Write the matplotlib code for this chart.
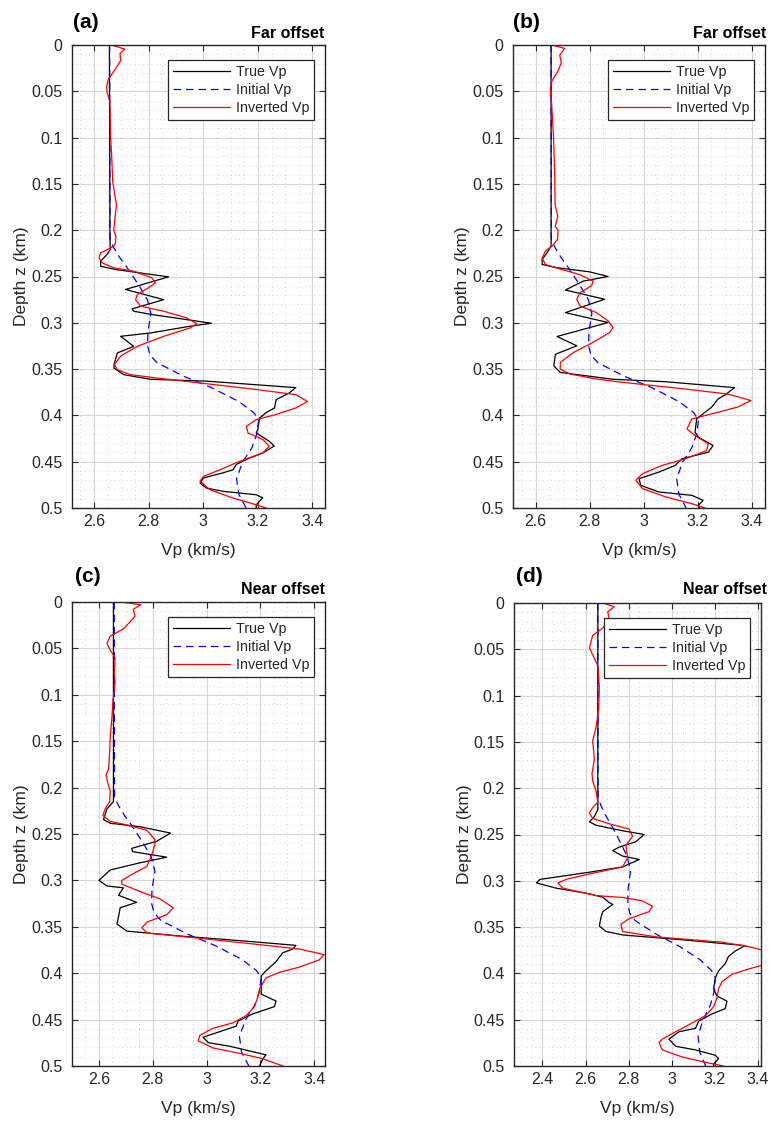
import numpy as np
import matplotlib
matplotlib.use("Agg")
import matplotlib.pyplot as plt
from matplotlib.ticker import MultipleLocator, FuncFormatter

plt.rcParams["font.family"] = ["Liberation Sans", "DejaVu Sans"]

# --- initial model (same smooth starting model in every panel) ---
init_z = [0, 0.21, 0.219, 0.23, 0.24, 0.26, 0.275, 0.29, 0.31, 0.325, 0.335, 0.343,
          0.358, 0.37, 0.385, 0.397, 0.405, 0.42, 0.435, 0.45, 0.468, 0.485, 0.5]
init_vp = [2.657, 2.658, 2.672, 2.695, 2.72, 2.765, 2.795, 2.808, 2.797, 2.796, 2.805, 2.83,
           2.93, 3.03, 3.13, 3.185, 3.203, 3.196, 3.178, 3.145, 3.122, 3.13, 3.157]

# --- (a) far offset ---
a_true_z = [0, 0.2, 0.221, 0.226, 0.2335, 0.239, 0.2425, 0.2504, 0.264, 0.275, 0.285, 0.2875,
            0.291, 0.3005, 0.3037, 0.311, 0.3146, 0.3254, 0.3326, 0.345, 0.349, 0.356, 0.361,
            0.363, 0.37, 0.3758, 0.383, 0.392, 0.397, 0.403, 0.415, 0.419, 0.428, 0.433, 0.4406,
            0.446, 0.453, 0.4587, 0.462, 0.4676, 0.473, 0.4785, 0.482, 0.4857, 0.489, 0.4965, 0.5]
a_true_vp = [2.656, 2.658, 2.659, 2.648, 2.624, 2.624, 2.68, 2.873, 2.715, 2.855, 2.739, 2.745,
             2.81, 3.03, 2.952, 2.806, 2.697, 2.745, 2.685, 2.673, 2.673, 2.709, 2.806,
             3.012, 3.339, 3.315, 3.267, 3.261, 3.23, 3.206, 3.2, 3.194, 3.242, 3.26, 3.218,
             3.17, 3.121, 3.109, 3.073, 3.0, 2.988, 3.012, 3.073, 3.194, 3.218, 3.194, 3.194]
a_inv_z = [0, 0.0045, 0.009, 0.017, 0.024, 0.032, 0.037, 0.045, 0.052, 0.061, 0.099, 0.117,
           0.147, 0.162, 0.173, 0.188, 0.2, 0.207, 0.214, 0.217, 0.221, 0.2245, 0.23, 0.2353,
           0.2407, 0.2443, 0.2515, 0.257, 0.262, 0.2695, 0.275, 0.282, 0.2875, 0.2947, 0.301,
           0.3055, 0.3146, 0.3254, 0.336, 0.345, 0.3506, 0.356, 0.3596, 0.365, 0.372, 0.3776,
           0.385, 0.392, 0.399, 0.4046, 0.4118, 0.419, 0.426, 0.4334, 0.4406, 0.4496, 0.4587,
           0.466, 0.471, 0.4802, 0.4893, 0.4965, 0.5]
a_inv_vp = [2.664, 2.713, 2.695, 2.697, 2.682, 2.664, 2.652, 2.646, 2.648, 2.658, 2.66, 2.664,
            2.668, 2.676, 2.682, 2.676, 2.672, 2.68, 2.678, 2.673, 2.648, 2.624, 2.618, 2.63,
            2.673, 2.745, 2.812, 2.824, 2.8, 2.758, 2.752, 2.77, 2.855, 2.939, 2.976,
            2.952, 2.855, 2.758, 2.697, 2.675, 2.685, 2.733, 2.83, 2.988, 3.194, 3.339,
            3.382, 3.339, 3.267, 3.194, 3.158, 3.164, 3.218, 3.242, 3.218, 3.133, 3.061,
            3.0, 2.988, 3.024, 3.109, 3.194, 3.23]

# --- (b) far offset ---
b_true_z = [0, 0.217, 0.224, 0.2316, 0.237, 0.2405, 0.245, 0.25, 0.255, 0.2646, 0.2746, 0.289,
            0.2997, 0.3148, 0.3249, 0.334, 0.3464, 0.3536, 0.361, 0.3636, 0.37, 0.3769, 0.3823,
            0.3912, 0.3966, 0.4038, 0.418, 0.4235, 0.4325, 0.4397, 0.4469, 0.454, 0.4612,
            0.4684, 0.4756, 0.4827, 0.4863, 0.4917, 0.4971, 0.5]
b_true_vp = [2.657, 2.657, 2.643, 2.624, 2.624, 2.679, 2.8, 2.868, 2.776, 2.71, 2.855, 2.71,
             2.868, 2.679, 2.752, 2.673, 2.667, 2.691, 2.886, 3.08, 3.336, 3.306, 3.275,
             3.251, 3.227, 3.196, 3.19, 3.202, 3.257, 3.239, 3.141, 3.117, 3.056,
             2.983, 2.989, 3.056, 3.178, 3.22, 3.202, 3.208]
b_inv_z = [0, 0.0037, 0.011, 0.019, 0.028, 0.039, 0.048, 0.058, 0.099, 0.136, 0.173, 0.185,
           0.196, 0.2, 0.21, 0.217, 0.2226, 0.23, 0.237, 0.242, 0.248, 0.255, 0.26, 0.2675,
           0.2746, 0.2818, 0.289, 0.298, 0.305, 0.3105, 0.321, 0.332, 0.3428, 0.35, 0.3554,
           0.3607, 0.3643, 0.3715, 0.377, 0.384, 0.391, 0.3984, 0.4038, 0.4146, 0.4217,
           0.4307, 0.4379, 0.4469, 0.454, 0.463, 0.47, 0.479, 0.488, 0.4953, 0.5]
b_inv_vp = [2.66, 2.707, 2.689, 2.695, 2.683, 2.66, 2.654, 2.658, 2.666, 2.67, 2.672, 2.682,
            2.672, 2.683, 2.681, 2.661, 2.636, 2.624, 2.636, 2.691, 2.764, 2.813, 2.807, 2.764,
            2.752, 2.764, 2.825, 2.868, 2.886, 2.874, 2.813, 2.74, 2.691, 2.691, 2.728,
            2.825, 2.922, 3.153, 3.312, 3.397, 3.348, 3.251, 3.178, 3.16, 3.19,
            3.239, 3.233, 3.153, 3.068, 2.995, 2.971, 2.995, 3.081, 3.178, 3.227]

# --- (c) near offset ---
c_true_z = [0, 0.215, 0.223, 0.2345, 0.2384, 0.2422, 0.249, 0.2578, 0.2655, 0.269, 0.275, 0.281,
            0.2888, 0.3, 0.306, 0.308, 0.316, 0.3236, 0.3295, 0.339, 0.347, 0.3547, 0.3605,
            0.3643, 0.37, 0.374, 0.378, 0.3876, 0.3973, 0.403, 0.4128, 0.4225, 0.43, 0.436,
            0.4438, 0.4515, 0.457, 0.463, 0.469, 0.4748, 0.4787, 0.488, 0.492, 0.5]
c_true_vp = [2.654, 2.654, 2.63, 2.617, 2.642, 2.753, 2.866, 2.815, 2.722, 2.725, 2.852, 2.753,
             2.642, 2.6, 2.63, 2.691, 2.673, 2.74, 2.679, 2.673, 2.667, 2.704, 2.925,
             3.098, 3.332, 3.32, 3.283, 3.258, 3.221, 3.203, 3.203, 3.203, 3.258, 3.252,
             3.172, 3.117, 3.11, 3.049, 2.987, 3.006, 3.086, 3.221, 3.209, 3.197]
c_inv_z = [0, 0.003, 0.0078, 0.0155, 0.0213, 0.029, 0.0368, 0.0446, 0.052, 0.06, 0.0756, 0.087,
           0.1066, 0.126, 0.145, 0.161, 0.18, 0.186, 0.194, 0.2035, 0.215, 0.223, 0.23, 0.2364,
           0.2403, 0.246, 0.256, 0.2616, 0.273, 0.285, 0.2926, 0.3, 0.304, 0.312, 0.32, 0.3295,
           0.337, 0.345, 0.351, 0.3566, 0.3624, 0.37, 0.374, 0.38, 0.3857, 0.3934, 0.399,
           0.405, 0.4167, 0.426, 0.436, 0.4457, 0.4535, 0.4593, 0.467, 0.4729, 0.4806, 0.4864,
           0.4922, 0.5]
c_inv_vp = [2.685, 2.755, 2.728, 2.734, 2.716, 2.691, 2.642, 2.63, 2.642, 2.66, 2.657, 2.66,
            2.652, 2.648, 2.642, 2.64, 2.636, 2.627, 2.632, 2.642, 2.64, 2.623, 2.615, 2.642,
            2.704, 2.778, 2.808, 2.808, 2.796, 2.778, 2.728, 2.685, 2.685, 2.753, 2.827, 2.876,
            2.852, 2.778, 2.76, 2.778, 2.975, 3.221, 3.345, 3.437, 3.418, 3.345, 3.271,
            3.221, 3.197, 3.19, 3.178, 3.147, 3.098, 3.024, 2.975, 2.969, 3.024, 3.123,
            3.209, 3.283]

# --- (d) near offset ---
d_true_z = [0, 0.223, 0.2306, 0.2364, 0.24, 0.246, 0.25, 0.2578, 0.2636, 0.2674, 0.2733, 0.277,
            0.285, 0.2907, 0.2985, 0.3023, 0.308, 0.314, 0.3178, 0.3236, 0.3256, 0.3333, 0.339,
            0.3488, 0.3547, 0.3585, 0.3643, 0.37, 0.376, 0.3818, 0.3895, 0.3973, 0.405, 0.4167,
            0.4244, 0.43, 0.438, 0.4438, 0.4515, 0.4593, 0.463, 0.471, 0.4787, 0.4826, 0.4884,
            0.492, 0.498, 0.5]
d_true_vp = [2.657, 2.657, 2.641, 2.618, 2.649, 2.772, 2.872, 2.833, 2.756, 2.726, 2.772, 2.849,
             2.772, 2.618, 2.388, 2.372, 2.465, 2.618, 2.68, 2.71, 2.726, 2.68, 2.672,
             2.664, 2.695, 2.772, 3.079, 3.34, 3.294, 3.263, 3.248, 3.217, 3.202, 3.194,
             3.21, 3.256, 3.248, 3.186, 3.125, 3.11, 3.033, 2.987, 3.018, 3.11, 3.202,
             3.217, 3.194, 3.194]
d_inv_z = [0, 0.004, 0.0097, 0.0174, 0.027, 0.035, 0.0484, 0.056, 0.0678, 0.091, 0.114, 0.1337,
           0.149, 0.1686, 0.184, 0.192, 0.2035, 0.215, 0.221, 0.2267, 0.2326, 0.2384, 0.2442,
           0.252, 0.2616, 0.275, 0.285, 0.2926, 0.2984, 0.3023, 0.308, 0.316, 0.318, 0.3217,
           0.3275, 0.3333, 0.341, 0.3469, 0.3547, 0.3605, 0.3663, 0.371, 0.376, 0.383, 0.3895,
           0.3953, 0.401, 0.409, 0.4167, 0.4264, 0.436, 0.4457, 0.4554, 0.463, 0.471, 0.4748,
           0.4826, 0.4903, 0.496, 0.5]
d_inv_vp = [2.68, 2.733, 2.703, 2.71, 2.68, 2.633, 2.618, 2.633, 2.657, 2.664, 2.661, 2.649,
            2.633, 2.641, 2.63, 2.633, 2.649, 2.657, 2.633, 2.618, 2.633, 2.71, 2.802,
            2.818, 2.787, 2.795, 2.772, 2.618, 2.511, 2.472, 2.495, 2.649, 2.772, 2.864,
            2.91, 2.895, 2.802, 2.764, 2.772, 2.925, 3.233, 3.355, 3.44, 3.52, 3.448,
            3.355, 3.279, 3.233, 3.217, 3.21, 3.194, 3.156, 3.079, 3.018, 2.956, 2.941,
            2.956, 3.048, 3.156, 3.24]

W, H = 771, 1121
panels = [
    dict(box=(72, 45, 325, 508), xlim=(2.519, 3.446), xt=[2.6, 2.8, 3.0, 3.2, 3.4],
         true=(a_true_z, a_true_vp), inv=(a_inv_z, a_inv_vp), tag="(a)", title="Far offset",
         tag_xy=(73, 22), title_xy=(324, 33)),
    dict(box=(513, 45, 765, 508), xlim=(2.516, 3.449), xt=[2.6, 2.8, 3.0, 3.2, 3.4],
         true=(b_true_z, b_true_vp), inv=(b_inv_z, b_inv_vp), tag="(b)", title="Far offset",
         tag_xy=(513, 22), title_xy=(766, 33)),
    dict(box=(72, 602, 325, 1066), xlim=(2.5, 3.44), xt=[2.6, 2.8, 3.0, 3.2, 3.4],
         true=(c_true_z, c_true_vp), inv=(c_inv_z, c_inv_vp), tag="(c)", title="Near offset",
         tag_xy=(75, 576), title_xy=(325, 590)),
    dict(box=(514, 603, 761, 1066), xlim=(2.268, 3.414), xt=[2.4, 2.6, 2.8, 3.0, 3.2, 3.4],
         true=(d_true_z, d_true_vp), inv=(d_inv_z, d_inv_vp), tag="(d)", title="Near offset",
         tag_xy=(516, 576), title_xy=(767, 590)),
]

fig = plt.figure(figsize=(W / 100, H / 100), dpi=100)
dark = "#262626"
fmt = FuncFormatter(lambda v, p: "%g" % round(v, 3))

for p in panels:
    l, t, r, b = p["box"]
    ax = fig.add_axes([l / W, 1 - b / H, (r - l) / W, (b - t) / H])
    ax.plot(p["true"][1], p["true"][0], color="black", lw=0.9, label="True Vp")
    ax.plot(init_vp, init_z, color="blue", lw=0.9, ls=(0, (6, 4)), label="Initial Vp")
    ax.plot(p["inv"][1], p["inv"][0], color="red", lw=0.9, label="Inverted Vp")

    ax.set_xlim(*p["xlim"])
    ax.set_ylim(0.5, 0)
    ax.set_xticks(p["xt"])
    ax.set_yticks(np.arange(0, 0.501, 0.05))
    ax.xaxis.set_major_formatter(fmt)
    ax.yaxis.set_major_formatter(fmt)
    ax.xaxis.set_minor_locator(MultipleLocator(0.05))
    ax.yaxis.set_minor_locator(MultipleLocator(0.01))
    ax.tick_params(which="major", direction="in", length=4, width=0.8, top=True, right=True,
                   color=dark, labelcolor=dark, labelsize=11.5)
    ax.tick_params(axis="y", which="major", pad=7)
    ax.tick_params(axis="x", which="major", pad=4)
    ax.tick_params(which="minor", length=0)
    ax.grid(True, which="major", color="#d6d6d6", lw=0.8)
    ax.grid(True, which="minor", color="#c4c4c4", lw=0.6, ls=(0, (1, 4)))
    ax.set_axisbelow(True)
    for s in ax.spines.values():
        s.set_color(dark)
        s.set_linewidth(1.0)

    ax.set_xlabel("Vp (km/s)", fontsize=12.5, color=dark)
    ax.xaxis.set_label_coords(0.5, -0.091)
    ax.xaxis.label.set_va("center")
    ax.set_ylabel("Depth z (km)", fontsize=12.5, color=dark)
    ax.yaxis.set_label_coords(-0.2, 0.5)
    ax.yaxis.label.set_va("center")

    leg = ax.legend(loc="upper right", bbox_to_anchor=(0.957, 0.968), borderaxespad=0,
                    fontsize=10.3, handlelength=4, handletextpad=0.4, labelspacing=0.3,
                    borderpad=0.35, fancybox=False, edgecolor=dark, framealpha=1)
    leg.get_frame().set_linewidth(0.9)
    for txt in leg.get_texts():
        txt.set_color(dark)

    fig.text(p["tag_xy"][0] / W, 1 - p["tag_xy"][1] / H, p["tag"], fontsize=15,
             fontweight="bold", ha="left", va="center")
    fig.text(p["title_xy"][0] / W, 1 - p["title_xy"][1] / H, p["title"], fontsize=11.5,
             fontweight="bold", ha="right", va="center", color="black")

fig.savefig("out.png", dpi=100)
